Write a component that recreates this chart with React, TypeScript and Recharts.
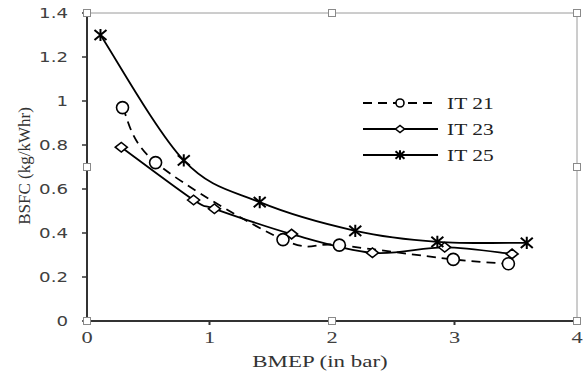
import React from "react";
import { LineChart, Line, XAxis, YAxis, ReferenceLine, ReferenceDot } from "recharts";

// BMEP (bar) / BSFC (kg/kWhr) per series
const it21Bmep = [0.29, 0.56, 1.6, 2.06, 2.99, 3.44];
const it21Bsfc = [0.97, 0.72, 0.37, 0.345, 0.28, 0.26];

const it23Bmep = [0.28, 0.87, 1.04, 1.67, 2.33, 2.92, 3.47];
const it23Bsfc = [0.79, 0.55, 0.51, 0.395, 0.31, 0.335, 0.305];

const it25Bmep = [0.11, 0.79, 1.41, 2.19, 2.86, 3.59];
const it25Bsfc = [1.3, 0.73, 0.54, 0.41, 0.36, 0.355];

const xTicks = [0, 1, 2, 3, 4];
const yTicks = [0, 0.2, 0.4, 0.6, 0.8, 1, 1.2, 1.4];

// excel selection handles round the plot frame
const handleX = [0, 2, 4, 4, 4, 2, 0, 0];
const handleY = [1.4, 1.4, 1.4, 0.7, 0, 0, 0, 0.7];

const pts = (xs: number[], ys: number[]) => xs.map((x, i) => ({ x, y: ys[i] }));

const INK = "#000";
const TEXT = "#404040";
const SERIF = "'Liberation Serif', 'Times New Roman', 'DejaVu Serif', serif";

// excel-like smoothing (catmull-rom style bezier), passed to recharts as a curve factory
function excelSmooth(context: any) {
  let p: number[][] = [];
  return {
    areaStart() {},
    areaEnd() {},
    lineStart() {
      p = [];
    },
    point(x: number, y: number) {
      p.push([+x, +y]);
    },
    lineEnd() {
      if (!p.length) return;
      context.moveTo(p[0][0], p[0][1]);
      for (let i = 0; i < p.length - 1; i++) {
        const a = p[i - 1] || p[i];
        const b = p[i];
        const c = p[i + 1];
        const d = p[i + 2] || c;
        context.bezierCurveTo(
          b[0] + (c[0] - a[0]) / 6,
          b[1] + (c[1] - a[1]) / 6,
          c[0] - (d[0] - b[0]) / 6,
          c[1] - (d[1] - b[1]) / 6,
          c[0],
          c[1]
        );
      }
    },
  };
}

function Circle({ cx, cy, r = 6 }: any) {
  return <circle cx={cx} cy={cy} r={r} fill="#fff" stroke={INK} strokeWidth={1.6} />;
}

function Diamond({ cx, cy, s = 6 }: any) {
  return (
    <path
      d={`M${cx - s},${cy} L${cx},${cy - s * 0.8} L${cx + s},${cy} L${cx},${cy + s * 0.8} Z`}
      fill="#fff"
      stroke={INK}
      strokeWidth={1.6}
    />
  );
}

function Star({ cx, cy, s = 6 }: any) {
  const h = s * 0.85;
  return (
    <path
      d={`M${cx - s},${cy - h} L${cx + s},${cy + h} M${cx - s},${cy + h} L${cx + s},${cy - h} M${cx},${cy - h - 1} L${cx},${cy + h + 1}`}
      stroke={INK}
      strokeWidth={2}
      fill="none"
    />
  );
}

const series = [
  { name: "IT 21", data: pts(it21Bmep, it21Bsfc), dash: "9 6", Mark: Circle },
  { name: "IT 23", data: pts(it23Bmep, it23Bsfc), dash: undefined, Mark: Diamond },
  { name: "IT 25", data: pts(it25Bmep, it25Bsfc), dash: undefined, Mark: Star },
];

// the screenshot is stretched sideways, so text gets a horizontal scale
function Wide({ x, y, sx, size, family, anchor = "middle", fill = TEXT, children }: any) {
  return (
    <text
      transform={`translate(${x},${y}) scale(${sx},1)`}
      textAnchor={anchor}
      style={{ fontFamily: family, fontSize: size }}
      fill={fill}
    >
      {children}
    </text>
  );
}

const XTick = ({ x, y, payload }: any) => (
  <Wide x={x} y={y + 16} sx={1.4} size={16} family={SERIF}>
    {payload.value}
  </Wide>
);

const YTick = ({ x, y, payload }: any) => (
  <Wide x={x - 12} y={y + 5} sx={1.3} size={14} family="'DejaVu Sans', sans-serif" anchor="end">
    {payload.value}
  </Wide>
);

const XTitle = ({ viewBox }: any) => (
  <Wide x={viewBox.x + viewBox.width / 2 - 12} y={viewBox.y + 46} sx={1.35} size={17} family={SERIF} fill="#333">
    BMEP (in bar)
  </Wide>
);

const YTitle = ({ viewBox }: any) => (
  <text
    transform={`translate(${viewBox.x + 30},${viewBox.y + viewBox.height / 2 - 1}) rotate(-90)`}
    textAnchor="middle"
    style={{ fontFamily: SERIF, fontSize: 17 }}
    fill="#333"
  >
    BSFC (kg/kWhr)
  </text>
);

function LegendBox() {
  return (
    <svg width={150} height={80} style={{ position: "absolute", left: 355, top: 90 }}>
      {series.map((s, i) => {
        const cy = 13 + i * 26;
        return (
          <g key={s.name}>
            <line x1={8} x2={83} y1={cy} y2={cy} stroke={INK} strokeWidth={1.8} strokeDasharray={s.dash} />
            <s.Mark cx={45} cy={cy} r={4} s={4.5} />
            <Wide x={92} y={cy + 6} sx={1.26} size={17} family={SERIF} anchor="start" fill="#222">
              {s.name}
            </Wide>
          </g>
        );
      })}
    </svg>
  );
}

const Handle = ({ cx, cy }: any) => (
  <rect x={cx - 3.5} y={cy - 3.5} width={7} height={7} fill="#fff" stroke="#8a8a8a" strokeWidth={1} />
);

export default function App() {
  return (
    <div style={{ position: "absolute", left: 0, top: 0, width: 584, height: 374, background: "#fff" }}>
      <LineChart width={584} height={374} margin={{ top: 13, right: 7, left: 0, bottom: 0 }}>
        <XAxis
          type="number"
          dataKey="x"
          domain={[0, 4]}
          ticks={xTicks}
          height={53}
          tickSize={4}
          tick={<XTick />}
          axisLine={{ stroke: "#333", strokeWidth: 2 }}
          tickLine={{ stroke: "#333", strokeWidth: 2 }}
          label={{ content: <XTitle /> }}
          allowDuplicatedCategory={false}
        />
        <YAxis
          type="number"
          dataKey="y"
          domain={[0, 1.4]}
          ticks={yTicks}
          width={87}
          tickSize={5}
          tick={<YTick />}
          axisLine={{ stroke: "#333", strokeWidth: 2 }}
          tickLine={{ stroke: "#333", strokeWidth: 1.5 }}
          label={{ content: <YTitle /> }}
        />
        <ReferenceLine y={1.4} stroke="#9a9a9a" strokeWidth={1} />
        <ReferenceLine x={4} stroke="#9a9a9a" strokeWidth={1} />
        {series.map((s) => (
          <Line
            key={s.name}
            name={s.name}
            data={s.data}
            dataKey="y"
            type={excelSmooth as any}
            stroke={INK}
            strokeWidth={1.8}
            strokeDasharray={s.dash}
            dot={(p: any) => <s.Mark key={`${s.name}-${p.index}`} cx={p.cx} cy={p.cy} />}
            activeDot={false}
            isAnimationActive={false}
          />
        ))}
        {handleX.map((hx, i) => (
          <ReferenceDot key={`h${i}`} x={hx} y={handleY[i]} ifOverflow="visible" shape={<Handle />} />
        ))}
      </LineChart>
      <LegendBox />
    </div>
  );
}
